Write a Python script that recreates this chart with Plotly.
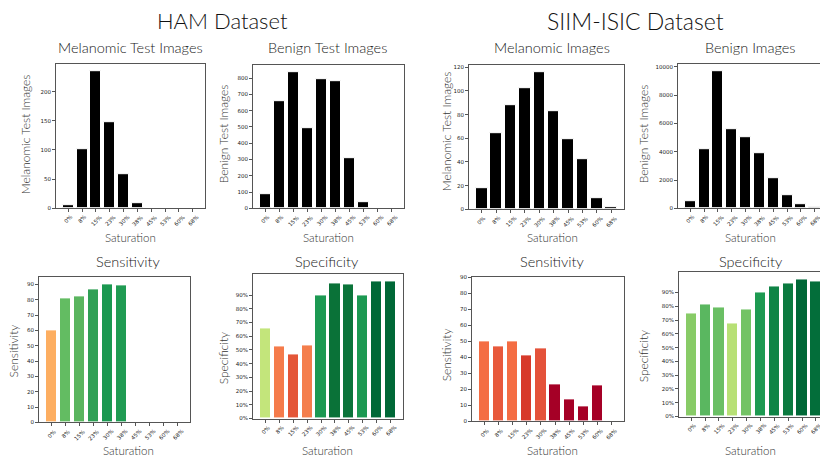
import plotly.graph_objects as go

sat = ["0%", "8%", "15%", "23%", "30%", "38%", "45%", "53%", "60%", "68%"]

ham_mel = [5, 102, 235, 148, 58, 9, 0, 0, 0, 0]
ham_ben = [85, 658, 838, 493, 792, 783, 307, 37, 0, 0]
siim_mel = [18, 64, 88, 102, 116, 83, 59, 42, 9, 2]
siim_ben = [500, 4200, 9700, 5600, 5000, 3900, 2150, 900, 320, 100]

ham_sens = [60.3, 80.7, 82.0, 86.8, 90.0, 89.0, 0, 0, 0, 0]
ham_spec = [0.655, 0.525, 0.465, 0.53, 0.895, 0.985, 0.98, 0.895, 1.0, 1.0]
siim_sens = [50.0, 47.0, 50.0, 41.0, 45.5, 23.0, 14.0, 9.5, 22.5, 0]
siim_spec = [0.75, 0.81, 0.79, 0.675, 0.78, 0.90, 0.945, 0.965, 0.995, 0.98]

ham_sens_col = ["#fdae61", "#63bc62", "#5ab55f", "#30a055", "#1a9850", "#209b53",
                "#1a9850", "#1a9850", "#1a9850", "#1a9850"]
ham_spec_col = ["#c3e57b", "#f57b4b", "#e45638", "#f47e4c", "#1c9952", "#0a7238",
                "#0b743a", "#1c9952", "#006837", "#006837"]
siim_sens_col = ["#f46d43", "#e8593b", "#f46d43", "#d73a2b", "#e4523a", "#a50026",
                 "#a50026", "#a50026", "#a50026", "#a50026"]
siim_spec_col = ["#88cb67", "#5ab760", "#6abf64", "#b7e075", "#73c365", "#1d9a51",
                 "#0f8446", "#0b7a3f", "#006837", "#036e3a"]

W, H = 820, 462
TF = "Lato"
TICKF = dict(family="DejaVu Sans", size=5.5, color="#222")

def px_x(a, b):
    return [a / W, min(b / W, 1.0)]

def px_y(top, bot):
    return [1 - bot / H, 1 - top / H]

panels = [
    (ham_mel, "black", (56, 205), (62, 208), 9.89, [0, 247], [0, 50, 100, 150, 200], None,
     "Melanomic Test Images", "Melanomic Test Images", True),
    (ham_ben, "black", (253, 404), (63, 208), 9.89, [0, 880], list(range(0, 801, 100)), None,
     "Benign Test Images", "Benign Test Images", True),
    (siim_mel, "black", (469, 624), (63, 209), 9.89, [0, 121.8], list(range(0, 121, 20)), None,
     "Melanomic Test Images", "Melanomic Images", True),
    (siim_ben, "black", (678, 820), (62, 208), 9.38, [0, 10185], list(range(0, 10001, 2000)), None,
     "Benign Test Images", "Benign Images", False),
    (ham_sens, ham_sens_col, (39, 190), (278, 425), 9.89, [0, 94.5], list(range(0, 91, 10)), None,
     "Sensitivity", "Sensitivity", True),
    (ham_spec, ham_spec_col, (253, 403), (275, 421), 9.89, [0, 1.05], [i / 10 for i in range(10)], ".0%",
     "Specificity", "Specificity", True),
    (siim_sens, siim_sens_col, (472, 624), (278, 424), 9.89, [0, 90], list(range(0, 91, 10)), None,
     "Sensitivity", "Sensitivity", True),
    (siim_spec, siim_spec_col, (679, 820), (273, 419), 9.30, [0, 1.045], [i / 10 for i in range(10)], ".0%",
     "Specificity", "Specificity", False),
]

ann_pos = [
    ((130, 45), (25, 133), (130, 238)),
    ((327, 45), (223, 133), (328, 238)),
    ((552, 45), (446, 130), (552, 238)),
    ((750, 45), (643, 133), (750, 238)),
    ((128, 262), (13, 353), (128, 453)),
    ((327, 262), (223, 360), (327, 453)),
    ((552, 262), (446, 357), (552, 453)),
    ((751, 262), (643, 358), (750, 453)),
]

fig = go.Figure()
layout = {}
annotations = []
for i, (vals, col, xd, yd, xmax, yr, yt, fmt, ytitle, title, mir) in enumerate(panels):
    n = i + 1
    xa = "x" if n == 1 else f"x{n}"
    ya = "y" if n == 1 else f"y{n}"
    fig.add_trace(go.Bar(
        x=list(range(len(sat))), y=vals, width=0.8,
        marker=dict(color=col, line=dict(color="white", width=1)),
        xaxis=xa, yaxis=ya, showlegend=False, hoverinfo="skip"))
    xkey = "xaxis" if n == 1 else f"xaxis{n}"
    ykey = "yaxis" if n == 1 else f"yaxis{n}"
    layout[xkey] = dict(
        domain=px_x(*xd), anchor=ya, range=[-0.89, xmax],
        tickmode="array", tickvals=list(range(len(sat))), showticklabels=False,
        ticks="outside", ticklen=3, tickcolor="#555",
        showline=True, linecolor="#555", linewidth=1, mirror=True,
        showgrid=False, zeroline=False, fixedrange=True)
    layout[ykey] = dict(
        domain=px_y(*yd), anchor=xa, range=yr,
        tickmode="array", tickvals=yt,
        tickformat=fmt if fmt else "d",
        tickfont=TICKF,
        ticks="outside", ticklen=3, tickcolor="#555",
        showline=True, linecolor="#555", linewidth=1, mirror=mir,
        showgrid=False, zeroline=False, fixedrange=True)
    # rotated category labels, centred under each tick
    ybot = px_y(*yd)[0]
    for k, lab in enumerate(sat):
        w = (0.636 * (len(lab) - 1) + 0.95) * TICKF["size"]
        off = 6 + (w + TICKF["size"]) / 2.828
        if k > xmax:
            continue
        annotations.append(dict(text=lab, x=k, xref=xa, y=ybot, yref="paper",
                                yshift=-off, showarrow=False, xanchor="center",
                                yanchor="middle", textangle=-45, font=TICKF))
    (tcx, tcy), (yx, ycy), (xcx, xcy) = ann_pos[i]
    annotations.append(dict(text=title, x=tcx / W, y=1 - tcy / H, xref="paper", yref="paper",
                            showarrow=False, xanchor="center", yanchor="middle",
                            font=dict(family=TF, size=14.5, color="#222", weight=300)))
    annotations.append(dict(text=ytitle, x=yx / W, y=1 - ycy / H, xref="paper", yref="paper",
                            showarrow=False, xanchor="center", yanchor="middle", textangle=-90,
                            font=dict(family=TF, size=12, color="#333", weight=300)))
    annotations.append(dict(text="Saturation", x=xcx / W, y=1 - xcy / H, xref="paper", yref="paper",
                            showarrow=False, xanchor="center", yanchor="middle",
                            font=dict(family=TF, size=11.5, color="#333", weight=300)))

annotations.append(dict(text="HAM Dataset", x=222 / W, y=1 - 18 / H, xref="paper", yref="paper",
                        showarrow=False, xanchor="center", yanchor="middle",
                        font=dict(family=TF, size=22, color="#111", weight=300)))
annotations.append(dict(text="SIIM-ISIC Dataset", x=635 / W, y=1 - 18 / H, xref="paper", yref="paper",
                        showarrow=False, xanchor="center", yanchor="middle",
                        font=dict(family=TF, size=23, color="#111", weight=300)))

fig.update_layout(**layout)
fig.update_layout(
    width=W, height=H, margin=dict(l=0, r=0, t=0, b=0),
    paper_bgcolor="white", plot_bgcolor="white",
    bargap=0, annotations=annotations)

fig.write_html("out.html", config={"displayModeBar": False},
               post_script="document.body.style.margin='0';document.body.style.overflow='hidden';")
